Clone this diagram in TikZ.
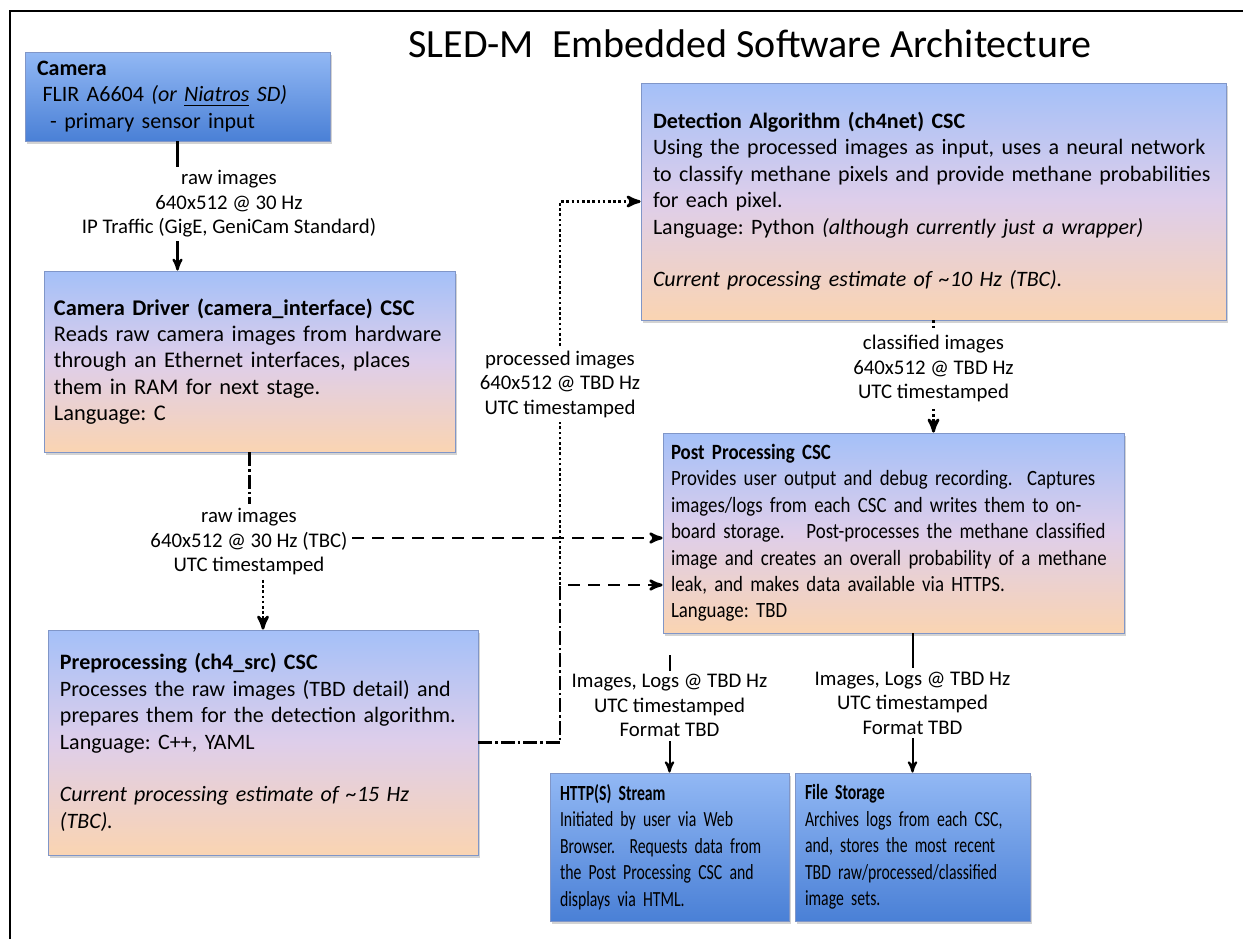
\documentclass[tikz,border=0pt]{standalone}
\usepackage{fontspec}
\setmainfont{Carlito}
\newfontfamily\postfont[FakeStretch=0.865]{Carlito}
\newfontfamily\outfont[FakeStretch=0.73]{Carlito}
\usepackage{tikz}
\usetikzlibrary{arrows,shadows}
\definecolor{cscTop}{RGB}{164,192,248}
\definecolor{cscMid}{RGB}{222,206,234}
\definecolor{cscBot}{RGB}{250,212,178}
\definecolor{hwTop}{RGB}{146,184,244}
\definecolor{hwBot}{RGB}{74,128,214}
\definecolor{boxLine}{RGB}{128,150,200}
\frenchspacing
\hyphenpenalty=10000

\begin{document}
\begin{tikzpicture}[>=stealth'
	,x=0.5pt,y=-0.5pt
	,semithick]
  \tikzstyle{box}
  =[draw=boxLine,thin,rectangle,align=left,inner xsep=6pt
  ,font=\fontsize{11}{13.2}\selectfont
  ,drop shadow={opacity=0.35,shadow xshift=1pt,shadow yshift=-1.5pt}]
  \tikzstyle{csc}=[box,top color=cscTop,bottom color=cscBot,middle color=cscMid]
  \tikzstyle{hw}=[box,top color=hwTop,bottom color=hwBot]
  \tikzstyle{lbl}=[fill=white,align=center,inner sep=2pt
  ,font=\fontsize{10.4}{12.25}\selectfont]
  \tikzstyle{solidln}=[line width=1.1pt]
  \tikzstyle{dotln}=[line width=1.4pt,dash pattern=on 1.3pt off 1.3pt]
  \tikzstyle{dashln}=[line width=1.3pt,dash pattern=on 6pt off 4pt]
  \tikzstyle{ddln}=[line width=1.2pt,dash pattern=on 7pt off 1.5pt on 1.2pt off 1.5pt]

  \useasboundingbox (0,0) rectangle (1243,939);

  % frame + title
  \draw[line width=1pt] (10,939) -- (10,11) -- (1243,11);
  \node[font=\fontsize{20}{24}\selectfont,anchor=base] (title) at (750,57)
    {SLED-M\ \ Embedded Software Architecture};

  % boxes
  \node[hw,minimum width=152.5pt,text width=140.5pt,minimum height=44.5pt]
    (cam) at (177.5,96.5) {\textbf{Camera}\\
    \hspace*{0.25em}FLIR A6604 \textit{(or \underline{Niatros} SD)}\\
    \hspace*{0.6em}- primary sensor input};

  \node[csc,font=\fontsize{11.2}{13.2}\selectfont,inner xsep=5pt
    ,minimum width=205.5pt,text width=195.5pt,minimum height=90.5pt]
    (drv) at (249.5,361.5) {\textbf{Camera Driver (camera\_interface) CSC}\\
    Reads raw camera images from hardware\\
    through an Ethernet interfaces, places\\
    them in RAM for next stage.\\
    Language: C};

  \node[csc,minimum width=215pt,text width=203pt,minimum height=112.5pt]
    (prep) at (263,742.5) {\textbf{Preprocessing (ch4\_src) CSC}\\
    Processes the raw images (TBD detail) and\\
    prepares them for the detection algorithm.\\
    Language: C++, YAML\\
    ~\\
    \textit{Current processing estimate of \textasciitilde15 Hz}\\
    \textit{(TBC).}};

  \node[csc,minimum width=292.5pt,text width=280.5pt,minimum height=118.5pt]
    (det) at (933.5,201.5) {\textbf{Detection Algorithm (ch4net) CSC}\\
    Using the processed images as input, uses a neural network\\
    to classify methane pixels and provide methane probabilities\\
    for each pixel.\\
    Language: Python \textit{(although currently just a wrapper)}\\
    ~\\
    \textit{Current processing estimate of \textasciitilde10 Hz (TBC).}};

  \node[csc,font=\postfont\fontsize{10.9}{13.2}\selectfont,inner xsep=4pt
    ,minimum width=230.5pt,text width=222.5pt,minimum height=100pt]
    (post) at (893.5,533) {\textbf{Post Processing CSC}\\
    Provides user output and debug recording.\ \ Captures\\
    images/logs from each CSC and writes them to on-\\
    board storage.\ \ \ Post-processes the methane classified\\
    image and creates an overall probability of a methane\\
    leak, and makes data available via HTTPS.\\
    Language: TBD};

  \node[hw,font=\outfont\fontsize{10.8}{13.3}\selectfont,inner xsep=5pt
    ,minimum width=119.5pt,text width=109.5pt,minimum height=74pt]
    (http) at (669.5,847) {\textbf{HTTP(S) Stream}\\
    Initiated by user via Web\\
    Browser.\ \ Requests data from\\
    the Post Processing CSC and\\
    displays via HTML.};

  \node[hw,font=\outfont\fontsize{10.8}{13.3}\selectfont,inner xsep=5pt
    ,minimum width=117.5pt,text width=107.5pt,minimum height=74pt]
    (file) at (912.5,847) {\textbf{File Storage}\\
    Archives logs from each CSC,\\
    and, stores the most recent\\
    TBD raw/processed/classified\\
    image sets.};

  % camera -> driver
  \draw[->,solidln] (cam.south) -- (cam.south |- drv.north);
  \node[lbl] (camlbl) at (229,204)
    {raw images\\640x512 @ 30 Hz\\IP Traffic (GigE, GeniCam Standard)};

  % driver -> preprocessing, post
  \node[lbl] (rawlbl) at (249,542)
    {raw images\\640x512 @ 30 Hz (TBC)\\UTC timestamped};
  \draw[ddln] (drv.south) -- (drv.south |- rawlbl.north);
  \draw[->,dotln] (rawlbl.south -| prep.north) -- (prep.north);
  \draw[->,dashln] ([yshift=2pt]rawlbl.east) -- ([yshift=2pt]rawlbl.east -| post.west);

  % preprocessing -> detection, post
  \node[lbl] (proclbl) at (560,384)
    {processed images\\640x512 @ TBD Hz\\UTC timestamped};
  \coordinate (jn) at (560,585);
  \draw[ddln] (prep.east) -| (jn);
  \draw[dotln] (jn) -- (proclbl.south);
  \draw[->,dotln] (proclbl.north) |- (det.west);
  \draw[->,dashln] ([xshift=4pt]jn) -- (jn -| post.west);

  % detection -> post
  \draw[->,dotln] (det.south) -- (det.south |- post.north)
    node[lbl,pos=0.43] (clslbl)
    {classified images\\640x512 @ TBD Hz\\UTC timestamped};

  % post -> http, file
  \path (post.south -| http.north) ++(0,22) coordinate (httptop);
  \draw[->,line width=1pt] (httptop) -- (http.north)
    node[lbl,pos=0.43] (httplbl)
    {Images, Logs @ TBD Hz\\UTC timestamped\\Format TBD};
  \draw[->,line width=1pt] (post.south -| file.north) -- (file.north)
    node[lbl,midway] (filelbl)
    {Images, Logs @ TBD Hz\\UTC timestamped\\Format TBD};

\end{tikzpicture}
\end{document}
